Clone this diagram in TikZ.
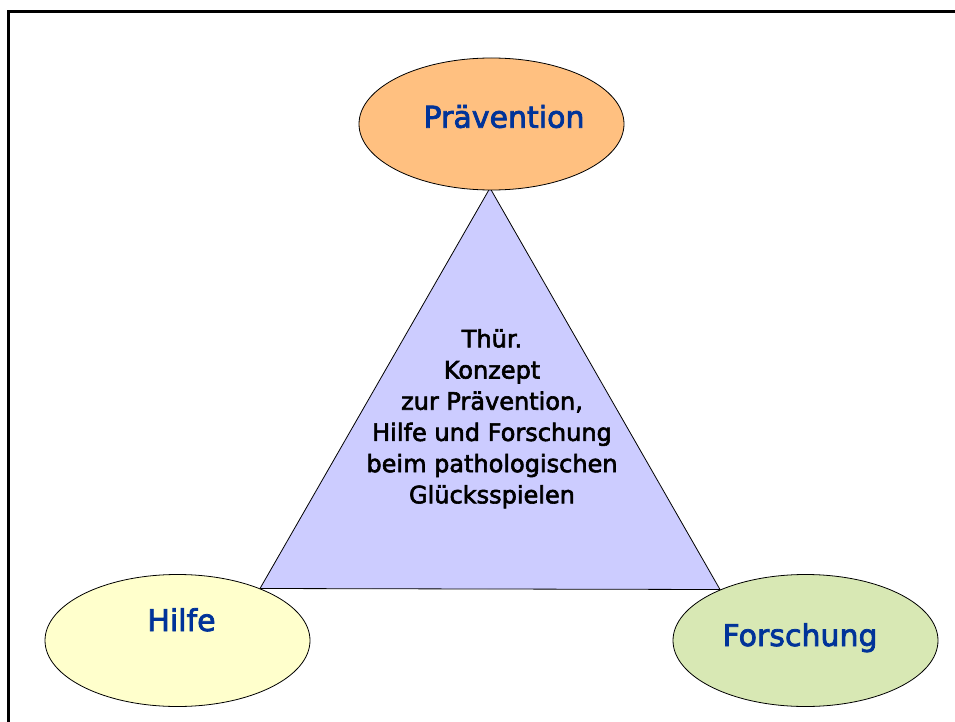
\documentclass[tikz,border=0pt]{standalone}
\usepackage{fontspec}
\setmainfont[FakeBold=2.5]{DejaVu Sans}
\usepackage{tikz}
\usetikzlibrary{shapes.geometric}

\definecolor{praevfill}{RGB}{255,192,128}
\definecolor{hilfefill}{RGB}{255,255,204}
\definecolor{forschfill}{RGB}{216,232,180}
\definecolor{konzfill}{RGB}{204,204,255}
\definecolor{labelblue}{RGB}{0,51,153}

\begin{document}
\begin{tikzpicture}[x=1pt,y=-1pt]

    \tikzstyle{field}=[ellipse,draw=black,line width=0.8pt,inner sep=0pt,minimum width=265pt,minimum height=132pt]
    \tikzstyle{fieldtext}=[anchor=base,inner sep=0pt,text=labelblue,font=\fontsize{30}{36}\selectfont]
    \tikzstyle{concept}=[draw=black,line width=0.8pt,fill=konzfill,line join=miter]

    \useasboundingbox (0,0) rectangle (955,722);
    % frame of the slide, cut off at right and bottom
    \draw[line width=2.6pt] (8.7,11.3) rectangle (975,745);

    \begin{scope}
        % the three fields
        \coordinate (ptop) at (490,188);
        \coordinate (pleft) at (260,588.5);
        \coordinate (pright) at (720,589.5);
        \draw[concept] (ptop) -- (pleft) -- (pright) -- cycle;
        \node [field,fill=praevfill] (praev) at (491.5,124) {};
        \node [field,fill=hilfefill] (hilfe) at (177.5,640.5) {};
        \node [field,fill=forschfill] (forsch) at (805.5,640.5) {};
        \node [fieldtext] (praevtext) at (504,127.7) {Prävention};
        \node [fieldtext] (hilfetext) at (181.5,631) {Hilfe};
        \node [fieldtext] (forschtext) at (800,646) {Forschung};
        \node [align=center,inner sep=0pt,font=\fontsize{24}{31.2}\selectfont] (konzept) at (492,418.7)
            {Thür.\\Konzept\\zur Prävention,\\Hilfe und Forschung\\beim pathologischen\\Glücksspielen};
    \end{scope}
\end{tikzpicture}
\end{document}
